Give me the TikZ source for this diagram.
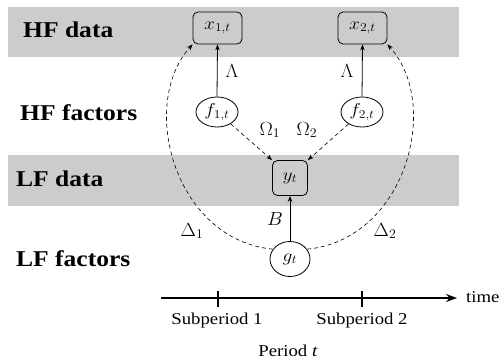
\documentclass[tikz,border=0pt]{standalone}
\usepackage{fontspec}
\setmainfont{Liberation Serif}[FakeStretch=1.13]
\usepackage{graphicx}
\usetikzlibrary{shapes.geometric,arrows.meta}
\definecolor{band}{RGB}{204,204,204}
\newcommand{\mth}[1]{\scalebox{1.13}[1]{$#1$}}
\newcommand{\mthl}[1]{\scalebox{1.15}[1.1]{$#1$}}
\tikzset{
 rowlab/.style={anchor=west,inner sep=0pt,font=\fontsize{22.6}{26}\selectfont\bfseries},
 databox/.style={draw,rounded corners=5pt,inner sep=0pt,font=\fontsize{17.28}{20}\selectfont,line width=0.8pt},
 factor/.style={draw,ellipse,inner sep=0pt,font=\fontsize{17.28}{20}\selectfont,line width=0.8pt},
 mlab/.style={inner sep=0pt,font=\fontsize{17.28}{20}\selectfont},
 tlab/.style={inner sep=0pt,font=\fontsize{16.6}{20}\selectfont},
 solidarr/.style={-{Stealth[length=6pt,width=4.5pt]},line width=0.8pt},
 dasharr/.style={-{Stealth[length=6pt,width=4.5pt]},line width=0.6pt,dash pattern=on 4pt off 3pt},
}
\begin{document}
\begin{tikzpicture}[x=1pt,y=-1pt]
\useasboundingbox (0,0) rectangle (502,361);
\fill[band] (8,7) rectangle (459,57);
\fill[band] (8,155) rectangle (459,206);
% row labels
\node[rowlab] (lhfd) at (23,30) {HF data};
\node[rowlab] (lhff) at (20,113) {HF factors};
\node[rowlab] (llfd) at (16,179) {LF data};
\node[rowlab] (llff) at (16,259) {LF factors};
% nodes
\node[databox,minimum width=49pt,minimum height=32pt] (x1) at (217.5,28) {\mth{x_{1,t}}};
\node[databox,minimum width=49pt,minimum height=32pt] (x2) at (362.5,28) {\mth{x_{2,t}}};
\node[databox,minimum width=35pt,minimum height=35pt] (yt) at (290,178) {\mth{y_t}};
\node[factor,minimum width=42pt,minimum height=30pt] (f1) at (217,112) {\mth{f_{1,t}}};
\node[factor,minimum width=42pt,minimum height=30pt] (f2) at (362,112) {\mth{f_{2,t}}};
\node[factor,minimum width=40pt,minimum height=35pt] (g) at (290,259) {\mth{g_t}};
% labels
\node[mlab] (lam1) at (232,71) {\mthl{\Lambda}};
\node[mlab] (lam2) at (347,71) {\mthl{\Lambda}};
\node[mlab] (om1) at (270,130) {\mthl{\Omega_1}};
\node[mlab] (om2) at (307,130) {\mthl{\Omega_2}};
\node[mlab] (bl) at (275,219) {\mthl{B}};
\node[mlab] (d1) at (192,231) {\mthl{\Delta_1}};
\node[mlab] (d2) at (385,231) {\mthl{\Delta_2}};
% connectors
\draw[solidarr] (f1.north) -- (x1.south);
\draw[solidarr] (f2.north) -- (x2.south);
\draw[solidarr] (g.north) -- (yt.south);
\draw[dasharr] (f1) -- (yt.north west);
\draw[dasharr] (f2) -- (yt.north east);
\draw[dasharr] (g.150) .. controls (175,240) and (138,105) .. (x1.south west);
\draw[dasharr] (g.30) .. controls (405,240) and (442,105) .. (x2.south east);
% timeline
\coordinate (tl0) at (161,298);
\coordinate (tl1) at (457,298);
\draw[line width=1.6pt,-{Stealth[length=11pt,width=8pt]}] (tl0) -- (tl1);
\node[tlab,anchor=west] (time) at (466,297) {time};
\coordinate (tk1a) at (218,291); \coordinate (tk1b) at (218,307);
\coordinate (tk2a) at (362,291); \coordinate (tk2b) at (362,307);
\draw[line width=1.2pt] (tk1a) -- (tk1b);
\draw[line width=1.2pt] (tk2a) -- (tk2b);
\node[tlab] (sp1) at (217,321) {Subperiod 1};
\node[tlab] (sp2) at (362,321) {Subperiod 2};
\node[tlab] (per) at (288,351) {Period \textit{t}};
\end{tikzpicture}
\end{document}
